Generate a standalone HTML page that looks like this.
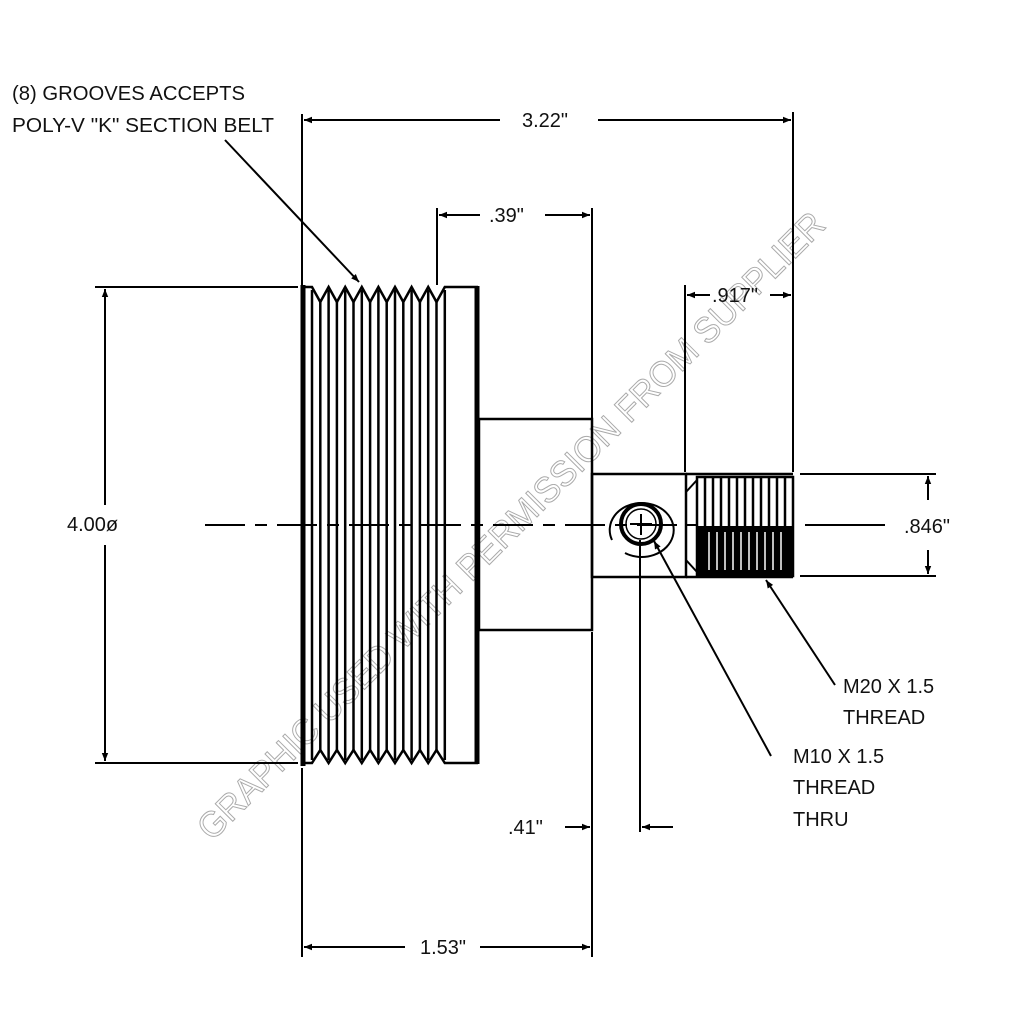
<!DOCTYPE html>
<html><head><style>
html,body{margin:0;padding:0;background:#fff;}
svg{display:block;}
text{font-family:"Liberation Sans",sans-serif;fill:#111;}
</style></head><body>
<svg width="1024" height="1024" viewBox="0 0 1024 1024" xmlns="http://www.w3.org/2000/svg">
<defs>
<marker id="a" viewBox="0 0 10 10" refX="10" refY="5" markerWidth="14" markerHeight="8" markerUnits="userSpaceOnUse" orient="auto-start-reverse"><path d="M0,1 L10,5 L0,9 z" fill="#000"/></marker>
</defs>
<text x="0" y="0" transform="translate(212,842) rotate(-45)" font-size="36" style="fill:none;stroke:#aaa;stroke-width:1" textLength="870" lengthAdjust="spacingAndGlyphs">GRAPHIC USED WITH PERMISSION FROM SUPPLIER</text>

<g stroke="#000" fill="none">
<line x1="205" y1="525" x2="697" y2="525" stroke-width="2" stroke-dasharray="40,10,12,10"/>
<line x1="805" y1="525" x2="885" y2="525" stroke-width="2"/>
<line x1="303" y1="285" x2="303" y2="766" stroke-width="5"/>
<polyline stroke-width="2.5" points="305,287 312,287 320.3,302 328.6,287 336.9,302 345.2,287 353.5,302 361.8,287 370.1,302 378.4,287 386.7,302 395,287 403.3,302 411.6,287 419.9,302 428.2,287 436.5,302 444.8,287 478,287"/>
<polyline stroke-width="2.5" points="305,763 312,763 320.3,750 328.6,763 336.9,750 345.2,763 353.5,750 361.8,763 370.1,750 378.4,763 386.7,750 395,763 403.3,750 411.6,763 419.9,750 428.2,763 436.5,750 444.8,763 478,763"/>
<g stroke-width="2.5">
<line x1="312" y1="290" x2="312" y2="760"/><line x1="320.3" y1="300" x2="320.3" y2="752"/><line x1="328.6" y1="290" x2="328.6" y2="760"/><line x1="336.9" y1="300" x2="336.9" y2="752"/><line x1="345.2" y1="290" x2="345.2" y2="760"/><line x1="353.5" y1="300" x2="353.5" y2="752"/><line x1="361.8" y1="290" x2="361.8" y2="760"/><line x1="370.1" y1="300" x2="370.1" y2="752"/><line x1="378.4" y1="290" x2="378.4" y2="760"/><line x1="386.7" y1="300" x2="386.7" y2="752"/><line x1="395" y1="290" x2="395" y2="760"/><line x1="403.3" y1="300" x2="403.3" y2="752"/><line x1="411.6" y1="290" x2="411.6" y2="760"/><line x1="419.9" y1="300" x2="419.9" y2="752"/><line x1="428.2" y1="290" x2="428.2" y2="760"/><line x1="436.5" y1="300" x2="436.5" y2="752"/><line x1="444.8" y1="290" x2="444.8" y2="760"/>
</g>
<line x1="477" y1="286" x2="477" y2="764" stroke-width="5"/>
<rect x="479" y="419" width="113" height="211" stroke-width="2.5"/>
<rect x="592" y="474" width="94" height="103" stroke-width="2.5"/>
<line x1="686" y1="474" x2="793" y2="474" stroke-width="2.5"/>
<line x1="686" y1="577" x2="793" y2="577" stroke-width="2.5"/>
<path d="M686,492 L697,480 M686,560 L697,572" stroke-width="2"/>
<path d="M612,540 A32,27 0 1,1 625,553" stroke-width="2"/>
<circle cx="641" cy="524" r="20" stroke-width="4"/>
<circle cx="641" cy="524" r="15" stroke-width="1.5"/>
<path d="M641,514 V535 M630,524 H652" stroke-width="2"/>
<rect x="697" y="477" width="96" height="99" stroke-width="2.5"/>
</g>
<rect x="697" y="526" width="96" height="50" fill="#000"/>
<g stroke="#000" stroke-width="2.5">
<line x1="705" y1="478" x2="705" y2="526"/><line x1="713" y1="478" x2="713" y2="526"/><line x1="721" y1="478" x2="721" y2="526"/><line x1="729" y1="478" x2="729" y2="526"/><line x1="737" y1="478" x2="737" y2="526"/><line x1="745" y1="478" x2="745" y2="526"/><line x1="753" y1="478" x2="753" y2="526"/><line x1="761" y1="478" x2="761" y2="526"/><line x1="769" y1="478" x2="769" y2="526"/><line x1="777" y1="478" x2="777" y2="526"/><line x1="785" y1="478" x2="785" y2="526"/>
</g>
<g stroke="#fff" stroke-width="1.5">
<line x1="709" y1="532" x2="709" y2="570"/><line x1="717" y1="532" x2="717" y2="570"/><line x1="725" y1="532" x2="725" y2="570"/><line x1="733" y1="532" x2="733" y2="570"/><line x1="741" y1="532" x2="741" y2="570"/><line x1="749" y1="532" x2="749" y2="570"/><line x1="757" y1="532" x2="757" y2="570"/><line x1="765" y1="532" x2="765" y2="570"/><line x1="773" y1="532" x2="773" y2="570"/><line x1="781" y1="532" x2="781" y2="570"/>
</g>

<g stroke="#000" stroke-width="2" fill="none">
<line x1="302" y1="114" x2="302" y2="285"/>
<line x1="302" y1="768" x2="302" y2="957"/>
<line x1="793" y1="112" x2="793" y2="472"/>
<line x1="437" y1="208" x2="437" y2="285"/>
<line x1="592" y1="208" x2="592" y2="418"/>
<line x1="592" y1="632" x2="592" y2="957"/>
<line x1="685" y1="285" x2="685" y2="472"/>
<line x1="640" y1="540" x2="640" y2="832"/>
<line x1="95" y1="287" x2="298" y2="287"/>
<line x1="95" y1="763" x2="298" y2="763"/>
<line x1="800" y1="474" x2="936" y2="474"/>
<line x1="800" y1="576" x2="936" y2="576"/>
<line x1="500" y1="120" x2="304" y2="120" marker-end="url(#a)"/>
<line x1="598" y1="120" x2="791" y2="120" marker-end="url(#a)"/>
<line x1="480" y1="215" x2="439" y2="215" marker-end="url(#a)"/>
<line x1="545" y1="215" x2="590" y2="215" marker-end="url(#a)"/>
<line x1="710" y1="295" x2="687" y2="295" marker-end="url(#a)"/>
<line x1="770" y1="295" x2="791" y2="295" marker-end="url(#a)"/>
<line x1="105" y1="505" x2="105" y2="289" marker-end="url(#a)"/>
<line x1="105" y1="545" x2="105" y2="761" marker-end="url(#a)"/>
<line x1="928" y1="500" x2="928" y2="476" marker-end="url(#a)"/>
<line x1="928" y1="550" x2="928" y2="574" marker-end="url(#a)"/>
<line x1="565" y1="827" x2="590" y2="827" marker-end="url(#a)"/>
<line x1="673" y1="827" x2="642" y2="827" marker-end="url(#a)"/>
<line x1="405" y1="947" x2="304" y2="947" marker-end="url(#a)"/>
<line x1="480" y1="947" x2="590" y2="947" marker-end="url(#a)"/>
<line x1="225" y1="140" x2="359" y2="282" marker-end="url(#a)"/>
<line x1="835" y1="685" x2="766" y2="580" marker-end="url(#a)"/>
<line x1="771" y1="756" x2="654" y2="541" marker-end="url(#a)"/>
</g>

<g font-size="20">
<text x="12" y="100" textLength="233" lengthAdjust="spacingAndGlyphs">(8) GROOVES ACCEPTS</text>
<text x="12" y="132" textLength="262" lengthAdjust="spacingAndGlyphs">POLY-V "K" SECTION BELT</text>
<text x="522" y="127">3.22"</text>
<text x="489" y="222">.39"</text>
<text x="712" y="302">.917"</text>
<text x="67" y="531">4.00ø</text>
<text x="904" y="533">.846"</text>
<text x="843" y="693">M20 X 1.5</text>
<text x="843" y="724">THREAD</text>
<text x="793" y="763">M10 X 1.5</text>
<text x="793" y="794">THREAD</text>
<text x="793" y="826">THRU</text>
<text x="508" y="834">.41"</text>
<text x="420" y="954">1.53"</text>
</g>
</svg>
</body></html>
